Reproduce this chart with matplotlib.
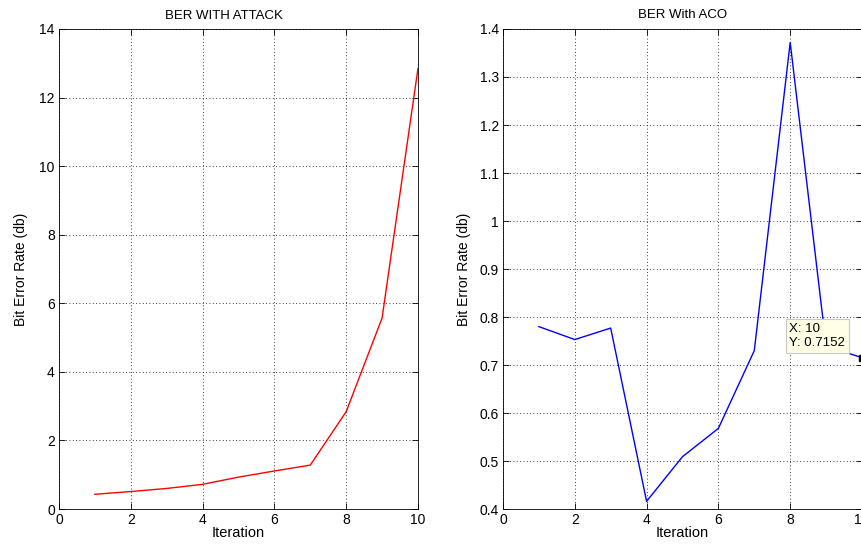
import matplotlib
matplotlib.use('Agg')
import matplotlib.pyplot as plt
from matplotlib.ticker import FuncFormatter

plt.rcParams['font.family'] = ['Liberation Sans', 'DejaVu Sans']

iteration = [1, 2, 3, 4, 5, 6, 7, 8, 9, 10]
ber_attack = [0.43, 0.51, 0.60, 0.72, 0.93, 1.11, 1.28, 2.84, 5.57, 12.85]
ber_aco = [0.780, 0.753, 0.777, 0.416, 0.509, 0.568, 0.730, 1.372, 0.740, 0.7152]

tip_x, tip_y = iteration[-1], ber_aco[-1]

fig = plt.figure(figsize=(8.62, 5.44), dpi=100)
ax1 = fig.add_axes([0.0684, 0.0643, 0.4165, 0.8824])
ax2 = fig.add_axes([0.5835, 0.0643, 0.4165, 0.8824])


def matlab_style(ax):
    ax.grid(True, linestyle=(0, (1, 3)), color='black', linewidth=0.6)
    ax.tick_params(direction='in', top=True, right=True, labelsize=10,
                   length=4, width=0.6, pad=3)
    for s in ax.spines.values():
        s.set_linewidth(0.6)


ax1.plot(iteration, ber_attack, color='red', lw=1)
ax1.set_xlim(0, 10)
ax1.set_ylim(0, 14)
ax1.set_xticks(range(0, 11, 2))
ax1.set_yticks(range(0, 15, 2))
ax1.set_title('BER WITH ATTACK', fontsize=9.5, pad=7, x=0.46)
ax1.set_xlabel('Iteration', fontsize=10.5, labelpad=-1)
ax1.set_ylabel('Bit Error Rate (db)', fontsize=10, labelpad=8)
matlab_style(ax1)

ax2.plot(iteration, ber_aco, color='blue', lw=1)
ax2.set_xlim(0, 10)
ax2.set_ylim(0.4, 1.4)
ax2.set_xticks(range(0, 11, 2))
ax2.set_yticks([0.4, 0.5, 0.6, 0.7, 0.8, 0.9, 1.0, 1.1, 1.2, 1.3, 1.4])
ax2.yaxis.set_major_formatter(FuncFormatter(lambda v, p: f'{v:g}'))
ax2.set_title('BER With ACO', fontsize=9.5, pad=8)
ax2.set_xlabel('Iteration', fontsize=10.5, labelpad=-1)
ax2.set_ylabel('Bit Error Rate (db)', fontsize=10, labelpad=6)
matlab_style(ax2)

# data tip on the last point
ax2.plot(tip_x, tip_y, 's', color='black', ms=5, clip_on=False, zorder=5)
ax2.text(7.98, 0.787, f'X: {tip_x}\nY: {tip_y:.4f}', fontsize=9.5,
         va='top', ha='left', linespacing=1.15, zorder=6,
         bbox=dict(boxstyle='square,pad=0.3', fc='#ffffe6', ec='#c8c8c8', lw=0.8))

fig.savefig('out.png', dpi=100)
